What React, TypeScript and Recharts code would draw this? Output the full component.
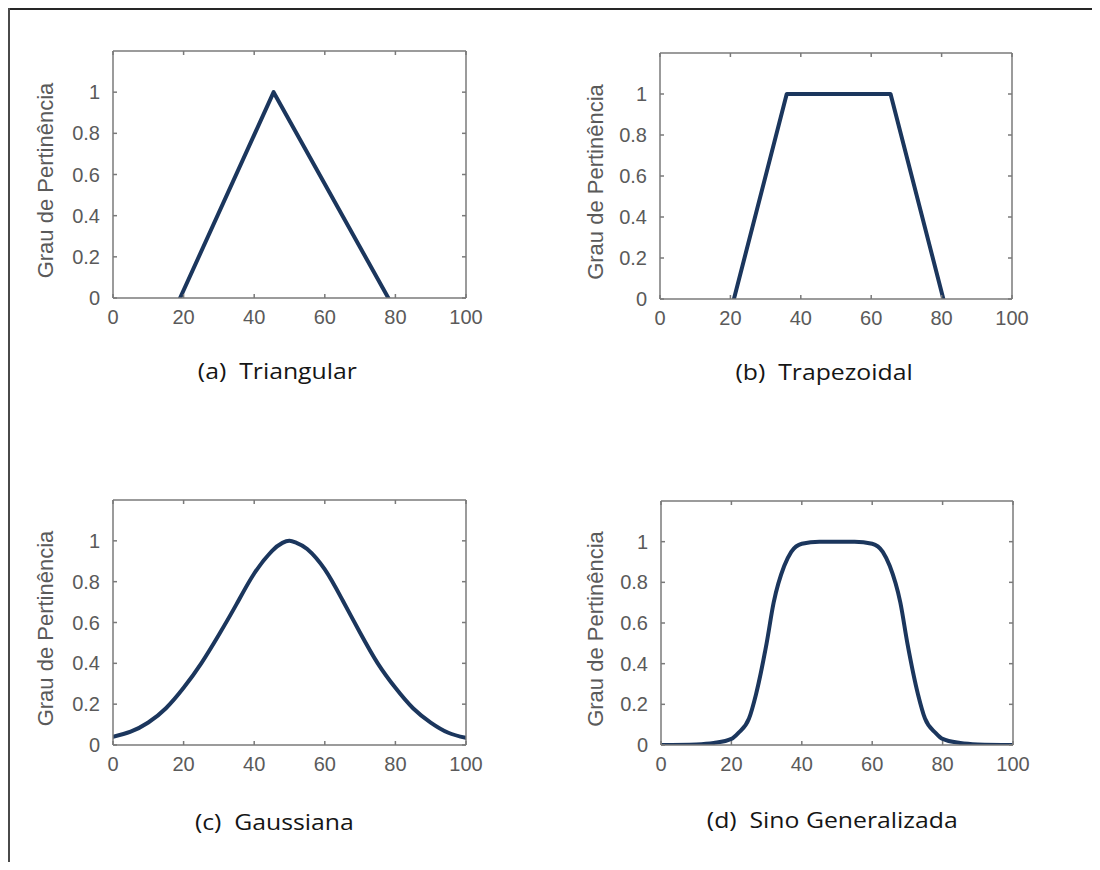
import React from 'react';
import { LineChart, Line, XAxis, YAxis } from 'recharts';

// ---- data ----
const xTicks = [0, 20, 40, 60, 80, 100];
const yTicks = [0, 0.2, 0.4, 0.6, 0.8, 1];

const triX = [19, 45.5, 78];
const triY = [0, 1, 0];

const trapX = [21, 36, 65.5, 80.5];
const trapY = [0, 1, 1, 0];

const gaussX = [0, 5, 10, 15, 20, 25, 30, 35, 40, 45, 48, 50, 52, 55, 60, 65, 70, 75, 80, 85, 90, 95, 100];
const gaussY = [0.04, 0.065, 0.11, 0.18, 0.28, 0.4, 0.54, 0.69, 0.84, 0.95, 0.99, 1.0, 0.99, 0.96, 0.86, 0.71, 0.55, 0.4, 0.28, 0.18, 0.11, 0.06, 0.035];

const bellX = [0, 10, 15, 20, 22, 25, 27, 30, 32, 35, 37, 40, 45, 50, 55, 60, 63, 65, 68, 70, 73, 75, 78, 80, 85, 90, 100];
const bellY = [0, 0.003, 0.01, 0.03, 0.06, 0.13, 0.25, 0.5, 0.7, 0.88, 0.95, 0.99, 1, 1, 1, 0.99, 0.95, 0.88, 0.7, 0.5, 0.25, 0.13, 0.06, 0.03, 0.01, 0.003, 0];

const titles = ['(a)  Triangular', '(b)  Trapezoidal', '(c)  Gaussiana', '(d)  Sino Generalizada'];
const yLabel = 'Grau de Pertinência';

const toRows = (xs: number[], ys: number[]) => xs.map((x, i) => ({ x, y: ys[i] }));

const LINE = '#1b365d';
const AXIS = '#7a7a7a';
const TEXT = '#5a5a5a';

type PanelProps = {
  left: number; top: number; width: number; height: number;
  plotL: number; plotT: number; plotR: number; plotB: number;
  data: { x: number; y: number }[];
  curve?: 'linear' | 'monotone' | 'natural';
};

function Panel({ left, top, width, height, plotL, plotT, plotR, plotB, data, curve }: PanelProps) {
  const xAxisH = 40;
  const margin = {
    left: 0,
    top: plotT - 1,
    right: width - plotR - 1,
    bottom: height - plotB - xAxisH,
  };
  const tickStyle = { fontFamily: 'Liberation Sans, Arial, sans-serif', fontSize: 20, fill: TEXT };
  return (
    <div style={{ position: 'absolute', left, top, width, height }}>
      <LineChart width={width} height={height} data={data} margin={margin}>
        <XAxis
          xAxisId="b" dataKey="x" type="number" domain={[0, 100]} ticks={xTicks}
          orientation="bottom" height={xAxisH} tickSize={-4} tickMargin={16}
          stroke={AXIS} strokeWidth={1.5} tick={tickStyle} allowDataOverflow interval={0}
        />
        <XAxis
          xAxisId="t" dataKey="x" type="number" domain={[0, 100]} ticks={xTicks}
          orientation="top" height={1} tickSize={-4} stroke={AXIS} strokeWidth={1.5}
          tick={() => null} allowDataOverflow interval={0}
        />
        <YAxis
          yAxisId="l" type="number" domain={[0, 1.2]} ticks={yTicks}
          orientation="left" width={plotL} tickSize={-4} tickMargin={17}
          stroke={AXIS} strokeWidth={1.5} tick={tickStyle} allowDataOverflow interval={0}
          label={(p: any) => {
            const vb = p.viewBox;
            const cx = vb.x + 45;
            const cy = vb.y + vb.height / 2 + 6;
            return (
              <text x={cx} y={cy} transform={`rotate(-90 ${cx} ${cy})`} textAnchor="middle"
                dominantBaseline="central" fill={TEXT}
                style={{ fontFamily: 'Liberation Sans, Arial, sans-serif', fontSize: 22 }}>
                {yLabel}
              </text>
            );
          }}
        />
        <YAxis
          yAxisId="r" type="number" domain={[0, 1.2]} ticks={yTicks}
          orientation="right" width={1} tickSize={-4} stroke={AXIS} strokeWidth={1.5}
          tick={() => null} allowDataOverflow interval={0}
        />
        <Line
          xAxisId="b" yAxisId="l" dataKey="y" type={curve || 'linear'}
          stroke={LINE} strokeWidth={4} dot={false} isAnimationActive={false}
          strokeLinejoin="round" strokeLinecap="round"
        />
      </LineChart>
    </div>
  );
}

function Title({ text, cx, cy }: { text: string; cx: number; cy: number }) {
  return (
    <div style={{
      position: 'absolute', left: cx - 200, top: cy - 16, width: 400, height: 32,
      textAlign: 'center', lineHeight: '32px',
    }}>
      <span style={{
        display: 'inline-block', whiteSpace: 'pre', transform: 'scaleX(1.18)',
        fontFamily: 'Open Sans, Liberation Sans, sans-serif', fontSize: 21, color: '#151515',
      }}>{text}</span>
    </div>
  );
}

export default function App() {
  return (
    <div style={{ position: 'relative', width: 1084, height: 854, overflow: 'hidden', background: '#fff' }}>
      <div style={{ position: 'absolute', left: -8, top: -8, width: 1100, height: 870 }}>
        <Panel left={0} top={0} width={550} height={420} plotL={113} plotT={51} plotR={466} plotB={298} data={toRows(triX, triY)} />
        <Panel left={550} top={0} width={550} height={420} plotL={110} plotT={53} plotR={462} plotB={299} data={toRows(trapX, trapY)} />
        <Panel left={0} top={440} width={550} height={430} plotL={113} plotT={60} plotR={466} plotB={305} data={toRows(gaussX, gaussY)} curve="natural" />
        <Panel left={550} top={440} width={550} height={430} plotL={111} plotT={61} plotR={463} plotB={305} data={toRows(bellX, bellY)} curve="monotone" />
        <Title text={titles[0]} cx={277} cy={371} />
        <Title text={titles[1]} cx={824} cy={372} />
        <Title text={titles[2]} cx={274} cy={822} />
        <Title text={titles[3]} cx={832} cy={820} />
        <svg width={1100} height={870} style={{ position: 'absolute', left: 0, top: 0, pointerEvents: 'none' }}>
          <line x1={8} y1={9} x2={1100} y2={9} stroke="#262626" strokeWidth={2} />
          <line x1={9} y1={8} x2={9} y2={870} stroke="#4a4a4a" strokeWidth={2} />
        </svg>
      </div>
    </div>
  );
}
